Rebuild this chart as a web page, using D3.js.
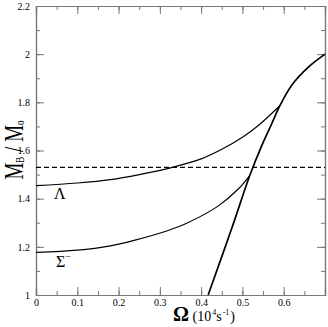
<!DOCTYPE html>
<html lang="en">
  <head>
    <script src="https://d3js.org/d3.v7.min.js"></script>
    <style>
      body { margin: 0; background: #fff; }
      text { font-family: "Liberation Serif", serif; }
      .axis path, .axis line { stroke: #777; }
      .axis text { font-size: 10px; fill: #000; }
      .curve { fill: none; stroke: #000; }
    </style>
  </head>
  <body>
    <svg width="328" height="327"></svg>
    <script>
      // values
      var omegaLambda = [0, 0.1, 0.18, 0.25, 0.33, 0.4, 0.45, 0.5, 0.54, 0.591];
      var massLambda = [1.454, 1.465, 1.479, 1.5, 1.53, 1.565, 1.605, 1.655, 1.706, 1.787];

      var omegaSigma = [0, 0.1, 0.18, 0.24, 0.32, 0.365, 0.44, 0.49, 0.518];
      var massSigma = [1.177, 1.186, 1.204, 1.228, 1.268, 1.298, 1.368, 1.44, 1.497];

      var omegaKepler = [0.417, 0.474, 0.518, 0.546, 0.571, 0.591, 0.619, 0.659, 0.7];
      var massKepler = [1.0, 1.276, 1.497, 1.617, 1.711, 1.787, 1.87, 1.945, 2.0];

      var massLimit = 1.53;

      var xTicks = [0, 0.1, 0.2, 0.3, 0.4, 0.5, 0.6];
      var yTicks = [1, 1.2, 1.4, 1.6, 1.8, 2, 2.2];

      var svg = d3.select("svg");
      var mLeft = 36, mRight = 325, mTop = 6, mBottom = 295;

      var x = d3.scaleLinear().domain([0, 0.7]).range([mLeft, mRight]);
      var y = d3.scaleLinear().domain([1, 2.2]).range([mBottom, mTop]);

      var xMinor = d3.range(0, 0.71, 0.05);
      var yMinor = d3.range(1, 2.21, 0.1);

      function addAxis(axis, tx, ty) {
        return svg.append("g").attr("class", "axis")
          .attr("transform", "translate(" + tx + "," + ty + ")")
          .call(axis)
          .attr("font-family", "Liberation Serif, serif")
          .attr("font-size", 10);
      }

      //minor ticks first (no labels)
      addAxis(d3.axisBottom(x).tickValues(xMinor).tickSize(-4).tickFormat(""), 0, mBottom);
      addAxis(d3.axisTop(x).tickValues(xMinor).tickSize(-4).tickFormat(""), 0, mTop);
      addAxis(d3.axisLeft(y).tickValues(yMinor).tickSize(-4).tickFormat(""), mLeft, 0);
      addAxis(d3.axisRight(y).tickValues(yMinor).tickSize(-4).tickFormat(""), mRight, 0);

      //major ticks
      addAxis(d3.axisBottom(x).tickValues(xTicks).tickSize(-8).tickPadding(4)
        .tickFormat(d3.format("")), 0, mBottom);
      addAxis(d3.axisTop(x).tickValues(xTicks).tickSize(-8).tickFormat(""), 0, mTop);
      addAxis(d3.axisLeft(y).tickValues(yTicks).tickSize(-8).tickPadding(6)
        .tickFormat(d3.format("")), mLeft, 0);
      addAxis(d3.axisRight(y).tickValues(yTicks).tickSize(-8).tickFormat(""), mRight, 0);

      svg.selectAll(".axis .domain").attr("stroke-width", 1.2);

      var line = d3.line()
        .x(function (d) { return x(d[0]); })
        .y(function (d) { return y(d[1]); })
        .curve(d3.curveCatmullRom.alpha(0.5));

      svg.append("path").attr("class", "curve")
        .attr("d", line(d3.zip(omegaLambda, massLambda)))
        .attr("stroke-width", 1.2);
      svg.append("path").attr("class", "curve")
        .attr("d", line(d3.zip(omegaSigma, massSigma)))
        .attr("stroke-width", 1.2);
      svg.append("path").attr("class", "curve")
        .attr("d", line(d3.zip(omegaKepler, massKepler)))
        .attr("stroke-width", 1.7);

      //dashed horizontal line
      svg.append("line")
        .attr("x1", x(0)).attr("x2", x(0.7))
        .attr("y1", y(massLimit)).attr("y2", y(massLimit))
        .attr("stroke", "#000").attr("stroke-width", 1.2)
        .attr("stroke-dasharray", "5,3");

      //curve labels
      svg.append("text").attr("x", 54).attr("y", 199)
        .attr("font-size", "16px").text("\u039B");
      var sig = svg.append("text").attr("x", 56).attr("y", 267).attr("font-size", "16px");
      sig.append("tspan").text("\u03A3");
      sig.append("tspan").attr("dy", -7).attr("font-size", "10px").text("\u2212");

      //axis titles
      var yl = svg.append("text")
        .attr("transform", "translate(23,150) rotate(-90) scale(1,1.4)")
        .attr("text-anchor", "middle")
        .attr("font-size", "19px");
      yl.append("tspan").text("M");
      yl.append("tspan").attr("dy", 1).attr("font-size", "9px").text("B");
      yl.append("tspan").attr("dy", -1).text(" / M");
      yl.append("tspan").attr("dy", 1).attr("font-size", "9px").text("o");

      var xl = svg.append("text")
        .attr("x", 173).attr("y", 321)
        .attr("font-size", "14px");
      xl.append("tspan").attr("font-size", "20px").attr("font-weight", "bold").text("\u03A9");
      xl.append("tspan").text(" (10");
      xl.append("tspan").attr("dy", -6).attr("dx", 1).attr("font-size", "8px").text("4");
      xl.append("tspan").attr("dy", 6).text("s");
      xl.append("tspan").attr("dy", -6).attr("dx", 1).attr("font-size", "8px").text("-1");
      xl.append("tspan").attr("dy", 6).attr("dx", 1).text(")");
    </script>
  </body>
</html>
